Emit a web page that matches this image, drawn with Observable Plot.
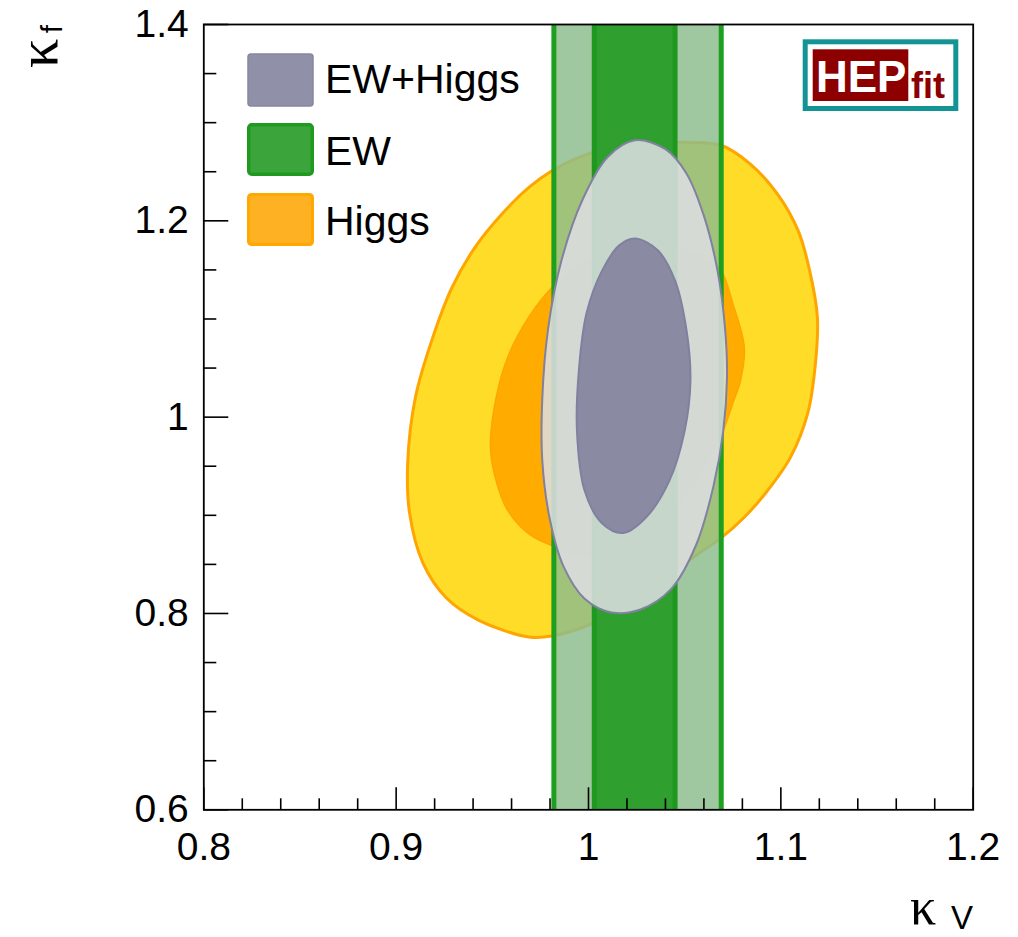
<!DOCTYPE html>
<html><head><meta charset="utf-8">
<script src="https://cdn.jsdelivr.net/npm/d3@7"></script>
<script src="https://cdn.jsdelivr.net/npm/@observablehq/plot@0.6"></script>
<style>body{margin:0;background:#fff} #chart{width:1018px;height:937px}</style>
</head><body><div id="chart"></div>
<script>
// ---- data (kappa_V, kappa_f) ----
const xDomain = [0.8, 1.2];
const yDomain = [0.6, 1.4];
const xTicks = [0.8, 0.9, 1, 1.1, 1.2];
const xMinorTicks = [0.82,0.84,0.86,0.88,0.92,0.94,0.96,0.98,1.02,1.04,1.06,1.08,1.12,1.14,1.16,1.18];
const yTicks = [0.6, 0.8, 1, 1.2, 1.4];
const yMinorTicks = [0.65,0.7,0.75,0.85,0.9,0.95,1.05,1.1,1.15,1.25,1.3,1.35];

const ew95 = [0.982, 1.069];   // EW 95% band in kappa_V
const ew68 = [1.003, 1.045];   // EW 68% band in kappa_V

const higgs95 = [[0.906,0.953],[0.910,1.020],[0.919,1.081],[0.929,1.132],[0.941,1.173],[0.955,1.207],[0.969,1.234],[0.981,1.251],[0.998,1.267],[1.024,1.279],[1.050,1.280],[1.069,1.277],[1.084,1.258],[1.098,1.228],[1.109,1.190],[1.115,1.149],[1.119,1.102],[1.118,1.055],[1.114,1.004],[1.105,0.959],[1.093,0.925],[1.081,0.898],[1.069,0.877],[1.058,0.862],[1.047,0.847],[1.032,0.826],[1.017,0.806],[1.001,0.789],[0.981,0.777],[0.969,0.776],[0.943,0.793],[0.926,0.816],[0.914,0.851],[0.907,0.902]];
const higgs68 = [[0.949,0.969],[0.952,1.020],[0.958,1.061],[0.969,1.102],[0.981,1.132],[0.996,1.157],[1.011,1.172],[1.030,1.177],[1.048,1.172],[1.061,1.162],[1.069,1.149],[1.075,1.116],[1.081,1.071],[1.079,1.037],[1.075,1.014],[1.070,0.986],[1.061,0.951],[1.048,0.915],[1.032,0.887],[1.014,0.866],[0.996,0.859],[0.981,0.869],[0.969,0.881],[0.958,0.905],[0.952,0.935]];
const ewHiggs95 = [[1.024,1.282],[1.040,1.273],[1.051,1.248],[1.060,1.205],[1.067,1.150],[1.071,1.090],[1.072,1.040],[1.070,0.985],[1.065,0.930],[1.056,0.870],[1.043,0.825],[1.027,0.804],[1.012,0.801],[0.998,0.815],[0.987,0.848],[0.980,0.895],[0.976,0.955],[0.976,1.020],[0.979,1.090],[0.986,1.160],[0.997,1.222],[1.010,1.265]];
const ewHiggs68 = [[1.024,1.182],[1.036,1.170],[1.045,1.139],[1.051,1.088],[1.053,1.037],[1.050,0.986],[1.042,0.935],[1.030,0.898],[1.018,0.882],[1.007,0.892],[0.998,0.925],[0.994,0.986],[0.995,1.048],[0.999,1.106],[1.007,1.149],[1.016,1.175]];

const legendLabels = ["EW+Higgs", "EW", "Higgs"];

// ---- layout ----
const W = 1018, H = 937;
const mL = 203.3, mR = 45.3, mT = 24, mB = 127.7;
const pw = W - mL - mR, ph = H - mT - mB;
const sans = "'Liberation Sans', Arial, Helvetica, sans-serif";
const serif = "'Liberation Serif', 'Times New Roman', serif";
const pts = a => a.map(([kV, kf]) => ({kV, kf}));
const shape = (a, o) => Plot.line(pts(a), {x: "kV", y: "kf", curve: "catmull-rom-closed", ...o});

const plot = Plot.plot({
  width: W, height: H,
  marginLeft: mL, marginRight: mR, marginTop: mT, marginBottom: mB,
  x: {domain: xDomain, label: null},
  y: {domain: yDomain, label: null},
  style: {fontFamily: sans, background: "white", color: "black"},
  marks: [
    shape(higgs95, {fill: "#ffdc28", stroke: "#ffa500", strokeWidth: 3}),
    shape(higgs68, {fill: "#ffab00", stroke: "#ffa500", strokeWidth: 1.5}),
    Plot.rect([ew95], {x1: d => d[0], x2: d => d[1], y1: () => yDomain[0], y2: () => yDomain[1], fill: "#8dbd8d", fillOpacity: 0.83}),
    Plot.ruleX(ew95, {stroke: "#1f9f1f", strokeWidth: 5}),
    Plot.rect([ew68], {x1: d => d[0], x2: d => d[1], y1: () => yDomain[0], y2: () => yDomain[1], fill: "#2f9f2f"}),
    Plot.ruleX(ew68, {stroke: "#1f981f", strokeWidth: 5}),
    shape(ewHiggs95, {fill: "#dcdee2", fillOpacity: 0.87, stroke: "#8181a0", strokeWidth: 2}),
    shape(ewHiggs68, {fill: "#8a8aa2", stroke: "#8080a0", strokeWidth: 2}),
    Plot.frame({stroke: "black", strokeWidth: 1.8}),
    Plot.ruleX(xTicks, {insetTop: ph - 22, stroke: "black", strokeWidth: 1.6}),
    Plot.ruleX(xMinorTicks, {insetTop: ph - 11, stroke: "black", strokeWidth: 1.6}),
    Plot.ruleY(yTicks, {insetRight: pw - 25, stroke: "black", strokeWidth: 1.6}),
    Plot.ruleY(yMinorTicks, {insetRight: pw - 13, stroke: "black", strokeWidth: 1.6}),
    Plot.axisX(xTicks, {tickSize: 0, tickPadding: 22, tickFormat: d => String(d), fontSize: 39, label: null}),
    Plot.axisY(yTicks, {tickSize: 0, tickPadding: 15, tickFormat: d => String(d), fontSize: 39, label: null})
  ]
});
document.getElementById("chart").appendChild(plot);

// ---- decorations: legend, logo, axis titles ----
const svg = d3.select(plot);
const txt = (g) => g.append("text").attr("text-anchor", "start").attr("fill", "black");
const lg = svg.append("g");
const sw = [
  {x: 248, y: 54, w: 65, h: 52, fill: "#9090a8", stroke: "#8686a0", sw: 1.5},
  {x: 248.7, y: 124.7, w: 63.6, h: 49.6, fill: "#3ba53b", stroke: "#1f9a1f", sw: 3.4},
  {x: 248.5, y: 194.5, w: 64, h: 50, fill: "#ffb124", stroke: "#ffa800", sw: 3}
];
const baselines = [93, 165, 235];
sw.forEach((s, i) => {
  lg.append("rect").attr("x", s.x).attr("y", s.y).attr("width", s.w).attr("height", s.h)
    .attr("rx", 3).attr("fill", s.fill).attr("stroke", s.stroke).attr("stroke-width", s.sw);
  txt(lg).attr("x", 325).attr("y", baselines[i]).attr("font-family", sans)
    .attr("font-size", 41).text(legendLabels[i]);
});

const logo = svg.append("g");
logo.append("rect").attr("x", 805.2).attr("y", 41.8).attr("width", 150.6).attr("height", 66.7)
  .attr("fill", "white").attr("stroke", "#139494").attr("stroke-width", 5);
logo.append("rect").attr("x", 812.7).attr("y", 49.3).attr("width", 95.6).attr("height", 51.7).attr("fill", "#8c0000");
txt(logo).attr("x", 816).attr("y", 92).attr("font-family", sans).attr("font-weight", "bold")
  .attr("font-size", 44).attr("fill", "white").text("HEP");
txt(logo).attr("x", 911).attr("y", 98).attr("font-family", sans).attr("font-weight", "bold")
  .attr("font-size", 36).attr("fill", "#8c0000").text("fit");

// x title  κ_V
txt(svg).attr("x", 910).attr("y", 924).attr("font-family", serif).attr("font-size", 52).text("κ");
txt(svg).attr("x", 973).attr("y", 929).attr("text-anchor", "end").attr("font-family", sans)
  .attr("font-size", 33).text("V");
// y title  κ_f (rotated)
txt(svg).attr("transform", "translate(57,68) rotate(-90)").attr("font-family", serif)
  .attr("font-size", 58).text("κ");
txt(svg).attr("transform", "translate(62,25) rotate(-90)").attr("text-anchor", "end")
  .attr("font-family", sans).attr("font-size", 30).text("f");
</script>
</body></html>
